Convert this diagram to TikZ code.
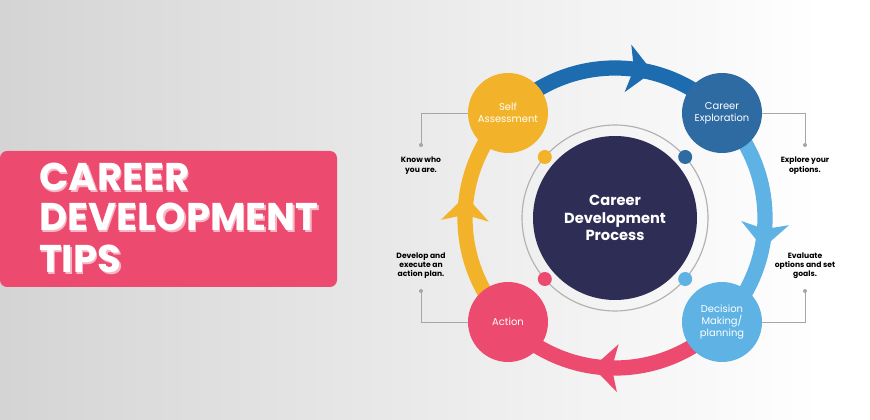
\documentclass[tikz,border=0pt]{standalone}
\usepackage{fontspec}
\setmainfont{Poppins}
\usepackage{tikz}

\definecolor{navy}{HTML}{2E2D55}
\definecolor{deepblue}{HTML}{2F6BA3}
\definecolor{arcblue}{HTML}{1E6CB0}
\definecolor{skyblue}{HTML}{5EB2E4}
\definecolor{rosered}{HTML}{EC4A6E}
\definecolor{sunyellow}{HTML}{F2B32A}
\definecolor{bggray}{HTML}{D4D4D4}

\tikzset{
  stage/.style={circle,minimum size=80*0.03cm,inner sep=0pt,text=white,align=center,font=\fontsize{8.5}{10}\selectfont},
  note/.style={align=center,font=\bfseries\fontsize{6.5}{8}\selectfont},
  leader/.style={draw=gray!70,line width=0.5pt}
}

\newcommand{\cyclehead}[2]{% angle, colour
  \fill[#2,rotate=#1] (150,-17) -- (126,8) -- (150,2) -- (174,8) -- cycle;
}

\begin{document}
\begin{tikzpicture}[x=0.03cm,y=0.03cm]
\useasboundingbox (0,0) rectangle (870,419);
% background
\fill[white] (0,0) rectangle (870,419);
\shade[left color=bggray,right color=white] (0,0) rectangle (820,419);

% title box
\fill[rosered,rounded corners=6] (0,132) rectangle (337,268);
\foreach \t/\y in {CAREER/242,DEVELOPMENT/202,TIPS/160}{
  \node[anchor=west,text=rosered!40,font=\bfseries\fontsize{33}{33}\selectfont] at (36.5,\y-1.5) {\t};
  \node[anchor=west,text=white,font=\bfseries\fontsize{33}{33}\selectfont] at (35,\y) {\t};
}

% cycle
\begin{scope}[shift={(615,201)}]
  \draw[arcblue,line width=13pt] (128:150) arc (128:52:150);
  \draw[skyblue,line width=13pt] (38:150) arc (38:-38:150);
  \draw[rosered,line width=13pt] (-52:150) arc (-52:-128:150);
  \draw[sunyellow,line width=13pt] (-142:150) arc (-142:-218:150);
  \cyclehead{82}{arcblue}
  \cyclehead{-5}{skyblue}
  \cyclehead{-92}{rosered}
  \cyclehead{178}{sunyellow}

  \draw[gray!60,line width=1pt] (0,0) circle (93);
  \node[circle,fill=navy,minimum size=164*0.03cm,text=white,align=center,
        font=\bfseries\fontsize{12.5}{15}\selectfont] (core) at (0,0) {Career\\Development\\Process};
  \fill[sunyellow] (139:93) circle (7);
  \fill[deepblue] (41:93) circle (7);
  \fill[skyblue] (-41:93) circle (7);
  \fill[rosered] (-139:93) circle (7);

  \node[stage,fill=sunyellow] (self) at (-107,105) {Self\\Assessment};
  \node[stage,fill=deepblue] (explore) at (107,105) {Career\\Exploration};
  \node[stage,fill=skyblue] (decide) at (107,-104) {Decision\\Making/\\planning};
  \node[stage,fill=rosered] (act) at (-107,-104) {Action};
\end{scope}

% side notes
\coordinate (d1) at (421,274);
\coordinate (d2) at (805,274);
\coordinate (d3) at (421,128);
\coordinate (d4) at (805,128);
\draw[leader] (self.west) -| (d1);
\draw[leader] (explore.east) -| (d2);
\draw[leader] (act.west) -| (d3);
\draw[leader] (decide.east) -| (d4);
\foreach \d in {d1,d2,d3,d4} \fill[gray!70] (\d) circle (2);

\node[note,anchor=north] (n1) at (421,266) {Know who\\you are.};
\node[note,anchor=north] (n2) at (805,266) {Explore your\\options.};
\node[note,anchor=south] (n3) at (421,136) {Develop and\\execute an\\action plan.};
\node[note,anchor=south] (n4) at (805,136) {Evaluate\\options and set\\goals.};
\end{tikzpicture}
\end{document}
